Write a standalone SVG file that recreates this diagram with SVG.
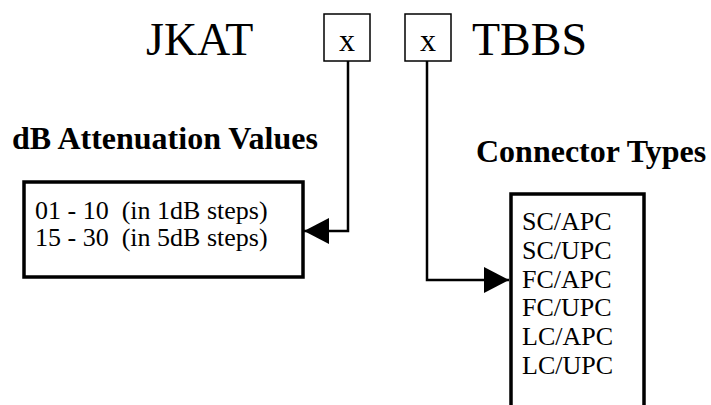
<svg xmlns="http://www.w3.org/2000/svg" width="711" height="405" viewBox="0 0 711 405">
<style>
text{font-family:"Liberation Serif","Times New Roman",serif;fill:#000}
.big{font-size:46px}
.x{font-size:32px;text-anchor:middle}
.hd{font-size:32px;font-weight:bold}
.it{font-size:26px}
.sbox{fill:#fff;stroke:#000;stroke-width:1.5}
.box{fill:#fff;stroke:#000;stroke-width:3.5}
.ln{fill:none;stroke:#000;stroke-width:2.5}
</style>
<defs>
<marker id="ah" markerUnits="userSpaceOnUse" markerWidth="25" markerHeight="26" refX="25" refY="13" orient="auto">
<path d="M0,0 L25,13 L0,26 Z" fill="#000"/>
</marker>
</defs>
<rect width="711" height="405" fill="#fff"/>
<g id="title-jkat"><text class="big" x="146" y="55">JKAT</text></g>
<g id="box1"><rect class="sbox" x="324" y="14" width="46" height="47"/><text class="x" x="347" y="51">x</text></g>
<g id="box2"><rect class="sbox" x="405" y="14" width="46" height="47"/><text class="x" x="428" y="51">x</text></g>
<g id="title-tbbs"><text class="big" x="472" y="55">TBBS</text></g>
<g id="atten">
<text class="hd" x="12" y="149">dB Attenuation Values</text>
<rect class="box" x="24" y="182" width="279" height="95"/>
<text class="it" x="35" y="219" xml:space="preserve">01 - 10  (in 1dB steps)</text>
<text class="it" x="35" y="246" xml:space="preserve">15 - 30  (in 5dB steps)</text>
</g>
<g id="conn">
<text class="hd" x="476" y="162">Connector Types</text>
<path class="box" d="M511,410 V194 H644 V410"/>
<text class="it" x="522" y="230">SC/APC</text>
<text class="it" x="522" y="259">SC/UPC</text>
<text class="it" x="522" y="288">FC/APC</text>
<text class="it" x="522" y="316">FC/UPC</text>
<text class="it" x="522" y="345">LC/APC</text>
<text class="it" x="522" y="374">LC/UPC</text>
</g>
<g id="connectors">
<path class="ln" d="M348,61 V231 H304" marker-end="url(#ah)"/>
<path class="ln" d="M427,61 V280 H509" marker-end="url(#ah)"/>
</g>
</svg>
